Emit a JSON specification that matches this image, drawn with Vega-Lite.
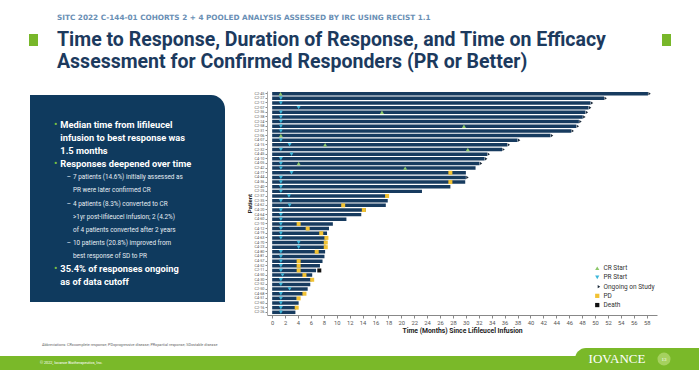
{
"$schema": "https://vega.github.io/schema/vega-lite/v6.json",
"background": "white",
"padding": 0,
"spacing": 0,
"config": {"view": {"stroke": null}, "font": "Roboto", "axis": {"labelOverlap": false}, "axisX": {"labelOverlap": false, "labelSeparation": 0}},
"datasets": {
"header": [
{"line": "sup", "text": "SITC 2022 C-144-01 COHORTS 2 + 4 POOLED ANALYSIS ASSESSED BY IRC USING RECIST 1.1"},
{"line": "t1", "text": "Time to Response, Duration of Response, and Time on Efficacy"},
{"line": "t2", "text": "Assessment for Confirmed Responders (PR or Better)"}
],
"panelLines": [
{"line": 1, "col": "b", "text": "•"},
{"line": 1, "col": "mt", "text": "Median time from lifileucel"},
{"line": 2, "col": "mt", "text": "infusion to best response was"},
{"line": 3, "col": "mt", "text": "1.5 months"},
{"line": 4, "col": "b", "text": "•"},
{"line": 4, "col": "mt", "text": "Responses deepened over time"},
{"line": 5, "col": "d", "text": "–"},
{"line": 5, "col": "st", "text": "7 patients (14.6%) initially assessed as"},
{"line": 6, "col": "st", "text": "PR were later confirmed CR"},
{"line": 7, "col": "d", "text": "–"},
{"line": 7, "col": "st", "text": "4 patients (8.3%) converted to CR"},
{"line": 8, "col": "st", "text": ">1yr post-lifileucel infusion; 2 (4.2%)"},
{"line": 9, "col": "st", "text": "of 4 patients converted after 2 years"},
{"line": 10, "col": "d", "text": "–"},
{"line": 10, "col": "st", "text": "10 patients (20.8%) improved from"},
{"line": 11, "col": "st", "text": "best response of SD to PR"},
{"line": 12, "col": "b", "text": "•"},
{"line": 12, "col": "mt", "text": "35.4% of responses ongoing"},
{"line": 13, "col": "mt", "text": "as of data cutoff"}
],
"patients": [
{"id": "C2-45", "end": 58.2}, {"id": "C2-27", "end": 51.4}, {"id": "C2-12", "end": 49.3}, {"id": "C2-07", "end": 49.0},
{"id": "C2-36", "end": 48.5}, {"id": "C2-38", "end": 48.1}, {"id": "C2-24", "end": 47.5}, {"id": "C2-58", "end": 47.1},
{"id": "C2-31", "end": 46.3}, {"id": "C2-06", "end": 43.1}, {"id": "C4-07", "end": 38.0}, {"id": "C4-15", "end": 36.4},
{"id": "C2-32", "end": 35.6}, {"id": "C4-45", "end": 33.3}, {"id": "C4-10", "end": 32.9}, {"id": "C4-05", "end": 32.1},
{"id": "C2-42", "end": 31.5}, {"id": "C4-77", "end": 30.0}, {"id": "C4-44", "end": 30.0}, {"id": "C4-36", "end": 29.9},
{"id": "C2-40", "end": 27.6}, {"id": "C2-25", "end": 23.2}, {"id": "C2-37", "end": 18.0}, {"id": "C2-35", "end": 17.9},
{"id": "C4-62", "end": 17.6}, {"id": "C4-20", "end": 14.5}, {"id": "C4-64", "end": 13.8}, {"id": "C4-60", "end": 11.5},
{"id": "C2-10", "end": 9.4}, {"id": "C4-12", "end": 8.8}, {"id": "C4-19", "end": 8.5}, {"id": "C4-63", "end": 8.4},
{"id": "C4-70", "end": 8.3}, {"id": "C4-23", "end": 8.3}, {"id": "C4-80", "end": 8.2}, {"id": "C4-81", "end": 8.1},
{"id": "C4-57", "end": 7.8}, {"id": "C4-52", "end": 7.4}, {"id": "C2-11", "end": 6.8}, {"id": "C4-50", "end": 6.2},
{"id": "C4-30", "end": 6.1}, {"id": "C2-52", "end": 5.9}, {"id": "C2-50", "end": 5.5}, {"id": "C4-68", "end": 4.8},
{"id": "C4-51", "end": 3.8}, {"id": "C2-60", "end": 4.1}, {"id": "C2-16", "end": 3.7}, {"id": "C2-26", "end": 3.6}
],
"events": [
{"id": "C2-45", "event": "CR Start", "month": 1.3},
{"id": "C2-36", "event": "CR Start", "month": 17.0},
{"id": "C2-58", "event": "CR Start", "month": 29.7},
{"id": "C2-06", "event": "CR Start", "month": 1.35},
{"id": "C4-15", "event": "CR Start", "month": 8.2},
{"id": "C2-32", "event": "CR Start", "month": 30.3},
{"id": "C4-05", "event": "CR Start", "month": 4.1},
{"id": "C2-42", "event": "CR Start", "month": 20.6},
{"id": "C2-27", "event": "PR Start", "month": 1.35},
{"id": "C2-12", "event": "PR Start", "month": 1.35},
{"id": "C2-07", "event": "PR Start", "month": 4.1},
{"id": "C2-36", "event": "PR Start", "month": 1.35},
{"id": "C2-38", "event": "PR Start", "month": 1.35},
{"id": "C2-24", "event": "PR Start", "month": 1.35},
{"id": "C2-58", "event": "PR Start", "month": 1.35},
{"id": "C2-31", "event": "PR Start", "month": 1.35},
{"id": "C4-07", "event": "PR Start", "month": 1.35},
{"id": "C4-15", "event": "PR Start", "month": 2.7},
{"id": "C2-32", "event": "PR Start", "month": 1.35},
{"id": "C4-45", "event": "PR Start", "month": 3.0},
{"id": "C4-10", "event": "PR Start", "month": 1.35},
{"id": "C4-05", "event": "PR Start", "month": 1.35},
{"id": "C2-42", "event": "PR Start", "month": 1.35},
{"id": "C4-77", "event": "PR Start", "month": 3.0},
{"id": "C4-44", "event": "PR Start", "month": 1.35},
{"id": "C4-36", "event": "PR Start", "month": 1.35},
{"id": "C2-40", "event": "PR Start", "month": 1.35},
{"id": "C2-25", "event": "PR Start", "month": 1.35},
{"id": "C2-37", "event": "PR Start", "month": 2.6},
{"id": "C2-35", "event": "PR Start", "month": 1.35},
{"id": "C4-62", "event": "PR Start", "month": 2.7},
{"id": "C4-20", "event": "PR Start", "month": 1.35},
{"id": "C4-64", "event": "PR Start", "month": 1.35},
{"id": "C4-60", "event": "PR Start", "month": 1.35},
{"id": "C2-10", "event": "PR Start", "month": 1.35},
{"id": "C4-12", "event": "PR Start", "month": 1.35},
{"id": "C4-19", "event": "PR Start", "month": 1.35},
{"id": "C4-63", "event": "PR Start", "month": 1.35},
{"id": "C4-70", "event": "PR Start", "month": 4.1},
{"id": "C4-23", "event": "PR Start", "month": 4.1},
{"id": "C4-80", "event": "PR Start", "month": 1.35},
{"id": "C4-81", "event": "PR Start", "month": 1.35},
{"id": "C4-57", "event": "PR Start", "month": 1.35},
{"id": "C4-52", "event": "PR Start", "month": 1.35},
{"id": "C2-11", "event": "PR Start", "month": 1.35},
{"id": "C4-50", "event": "PR Start", "month": 1.6},
{"id": "C4-30", "event": "PR Start", "month": 1.35},
{"id": "C2-52", "event": "PR Start", "month": 1.35},
{"id": "C2-50", "event": "PR Start", "month": 2.7},
{"id": "C4-68", "event": "PR Start", "month": 1.35},
{"id": "C4-51", "event": "PR Start", "month": 1.35},
{"id": "C2-60", "event": "PR Start", "month": 1.35},
{"id": "C2-16", "event": "PR Start", "month": 1.35},
{"id": "C2-26", "event": "PR Start", "month": 1.35},
{"id": "C2-45", "event": "Ongoing on Study", "month": 58.2},
{"id": "C2-27", "event": "Ongoing on Study", "month": 51.4},
{"id": "C2-12", "event": "Ongoing on Study", "month": 49.3},
{"id": "C2-07", "event": "Ongoing on Study", "month": 49.0},
{"id": "C2-36", "event": "Ongoing on Study", "month": 48.5},
{"id": "C2-38", "event": "Ongoing on Study", "month": 48.1},
{"id": "C2-24", "event": "Ongoing on Study", "month": 47.5},
{"id": "C2-58", "event": "Ongoing on Study", "month": 47.1},
{"id": "C2-31", "event": "Ongoing on Study", "month": 46.3},
{"id": "C2-06", "event": "Ongoing on Study", "month": 43.1},
{"id": "C4-07", "event": "Ongoing on Study", "month": 38.0},
{"id": "C4-15", "event": "Ongoing on Study", "month": 36.4},
{"id": "C2-32", "event": "Ongoing on Study", "month": 35.6},
{"id": "C4-45", "event": "Ongoing on Study", "month": 33.3},
{"id": "C4-10", "event": "Ongoing on Study", "month": 32.9},
{"id": "C4-05", "event": "Ongoing on Study", "month": 32.1},
{"id": "C4-44", "event": "Ongoing on Study", "month": 30.0},
{"id": "C4-77", "event": "PD", "month": 27.6},
{"id": "C4-36", "event": "PD", "month": 27.6},
{"id": "C2-37", "event": "PD", "month": 17.8},
{"id": "C4-62", "event": "PD", "month": 11.0},
{"id": "C4-20", "event": "PD", "month": 14.2},
{"id": "C2-10", "event": "PD", "month": 4.1},
{"id": "C4-12", "event": "PD", "month": 5.5},
{"id": "C4-19", "event": "PD", "month": 7.6},
{"id": "C4-63", "event": "PD", "month": 8.4},
{"id": "C4-70", "event": "PD", "month": 8.3},
{"id": "C4-23", "event": "PD", "month": 8.3},
{"id": "C4-80", "event": "PD", "month": 6.9},
{"id": "C4-57", "event": "PD", "month": 4.1},
{"id": "C4-52", "event": "PD", "month": 4.1},
{"id": "C2-11", "event": "PD", "month": 4.1},
{"id": "C4-50", "event": "PD", "month": 5.0},
{"id": "C4-30", "event": "PD", "month": 6.2},
{"id": "C4-68", "event": "PD", "month": 5.0},
{"id": "C4-51", "event": "PD", "month": 4.1},
{"id": "C2-16", "event": "PD", "month": 3.8},
{"id": "C2-11", "event": "Death", "month": 7.3}
]
},
"vconcat": [
{
"width": 699, "height": 91,
"data": {"name": "header"},
"layer": [
{"transform": [{"filter": "datum.line === 'sup'"}],
"mark": {"type": "text", "align": "left", "baseline": "middle", "font": "DejaVu Sans", "fontWeight": "bold", "fontSize": 7.3, "color": "#6a8fb5"},
"encoding": {
"x": {"field": "line", "type": "nominal", "scale": {"type": "point", "padding": 0, "domain": ["sup", "t1", "t2"], "range": [57, 57]}, "axis": null},
"y": {"field": "line", "type": "nominal", "scale": {"type": "point", "padding": 0, "domain": ["sup", "t1", "t2"], "range": [18, 62]}, "axis": null},
"text": {"field": "text"}}},
{"transform": [{"filter": "datum.line !== 'sup'"}],
"mark": {"type": "text", "align": "left", "baseline": "middle", "font": "Roboto", "fontWeight": "bold", "fontSize": 19.5, "color": "#1c3a5e"},
"encoding": {
"x": {"field": "line", "type": "nominal", "scale": {"type": "point", "padding": 0, "domain": ["sup", "t1", "t2"], "range": [57, 57]}, "axis": null},
"y": {"field": "line", "type": "nominal", "scale": {"type": "point", "padding": 0, "domain": ["sup", "t1", "t2"], "range": [18, 62]}, "axis": null},
"text": {"field": "text"}}},
{"data": {"values": [{"line": "t1", "side": "left"}, {"line": "t1", "side": "right"}]},
"mark": {"type": "point", "shape": "M-0.75,-1H0.75V1H-0.75Z", "size": 144, "filled": true, "color": "#78b72a", "opacity": 1},
"encoding": {
"x": {"field": "side", "type": "nominal", "scale": {"type": "point", "padding": 0, "domain": ["left", "right"], "range": [33.5, 666.5]}, "axis": null},
"y": {"field": "line", "type": "nominal", "scale": {"type": "point", "padding": 0, "domain": ["sup", "t1", "t2"], "range": [18, 62]}, "axis": null}}}
],
"resolve": {"scale": {"x": "independent"}}
},
{
"spacing": 0, "bounds": "flush",
"hconcat": [
{"width": 30, "height": 1, "data": {"values": []}, "mark": "point"},
{"width": 195, "height": 211,
"data": {"name": "panelLines"},
"layer": [
{"data": {"values": [{"part": "box"}]}, "mark": {"type": "rect", "color": "#0f3a5e", "cornerRadiusTopRight": 14},
"encoding": {"y": {"field": "part", "type": "nominal", "scale": {"type": "band", "domain": ["gap", "box"], "range": [-203, 211], "paddingInner": 0, "paddingOuter": 0}, "axis": null}}},
{"transform": [{"filter": "datum.col === 'b'"}],
"mark": {"type": "text", "align": "left", "baseline": "middle", "fontSize": 10, "color": "#7cc242"},
"encoding": {
"x": {"field": "col", "type": "nominal", "scale": {"type": "point", "padding": 0, "domain": ["b", "mt", "d", "st"], "range": [24, 43]}, "axis": null},
"y": {"field": "line", "type": "ordinal", "scale": {"type": "point", "padding": 0, "domain": [1,2,3,4,5,6,7,8,9,10,11,12,13], "range": [34, 191]}, "axis": null},
"text": {"field": "text"}}},
{"transform": [{"filter": "datum.col === 'mt'"}],
"mark": {"type": "text", "align": "left", "baseline": "middle", "fontSize": 9.3, "fontWeight": "bold", "color": "white"},
"encoding": {
"x": {"field": "col", "type": "nominal", "scale": {"type": "point", "padding": 0, "domain": ["b", "mt", "d", "st"], "range": [24, 43]}, "axis": null},
"y": {"field": "line", "type": "ordinal", "scale": {"type": "point", "padding": 0, "domain": [1,2,3,4,5,6,7,8,9,10,11,12,13], "range": [34, 191]}, "axis": null},
"text": {"field": "text"}}},
{"transform": [{"filter": "datum.col === 'd' || datum.col === 'st'"}],
"mark": {"type": "text", "align": "left", "baseline": "middle", "fontSize": 6.4, "color": "#e6edf3"},
"encoding": {
"x": {"field": "col", "type": "nominal", "scale": {"type": "point", "padding": 0, "domain": ["b", "mt", "d", "st"], "range": [24, 43]}, "axis": null},
"y": {"field": "line", "type": "ordinal", "scale": {"type": "point", "padding": 0, "domain": [1,2,3,4,5,6,7,8,9,10,11,12,13], "range": [34, 191]}, "axis": null},
"text": {"field": "text"}}}
],
"resolve": {"scale": {"y": "independent"}}
},
{"width": 42, "height": 1, "data": {"values": []}, "mark": "point"},
{
"width": 390, "height": 224,
"layer": [
{"data": {"name": "patients"},
"mark": {"type": "bar", "color": "#173b5f"},
"encoding": {
"x": {"field": "end", "type": "quantitative", "scale": {"domain": [-0.8, 59.6], "nice": false},
"axis": {"values": [0,2,4,6,8,10,12,14,16,18,20,22,24,26,28,30,32,34,36,38,40,42,44,46,48,50,52,54,56,58], "labelOverlap": false, "title": "Time (Months) Since Lifileucel Infusion", "titleFontSize": 6.8, "titleFontWeight": "bold", "titleColor": "#222", "labelFontSize": 5.8, "labelColor": "#555", "tickSize": 3, "tickColor": "#888", "domainColor": "#888", "grid": false, "labelPadding": 1, "titlePadding": 3}},
"y": {"field": "id", "type": "nominal", "sort": null,
"scale": {"domain": ["C2-45","C2-27","C2-12","C2-07","C2-36","C2-38","C2-24","C2-58","C2-31","C2-06","C4-07","C4-15","C2-32","C4-45","C4-10","C4-05","C2-42","C4-77","C4-44","C4-36","C2-40","C2-25","C2-37","C2-35","C4-62","C4-20","C4-64","C4-60","C2-10","C4-12","C4-19","C4-63","C4-70","C4-23","C4-80","C4-81","C4-57","C4-52","C2-11","C4-50","C4-30","C2-52","C2-50","C4-68","C4-51","C2-60","C2-16","C2-26"], "paddingInner": 0.25, "paddingOuter": 0.2},
"axis": {"title": "Patient", "titleFontSize": 6, "titleFontWeight": "bold", "titleColor": "#222", "labelFontSize": 3.8, "labelColor": "#555", "labelOverlap": false, "tickSize": 2, "tickColor": "#888", "domainColor": "#aaa", "labelPadding": 1, "titlePadding": 2}}}},
{"data": {"name": "events"},
"mark": {"type": "point", "filled": true, "size": 16, "opacity": 1, "strokeWidth": 0},
"encoding": {
"x": {"field": "month", "type": "quantitative",
"axis": {"values": [0,2,4,6,8,10,12,14,16,18,20,22,24,26,28,30,32,34,36,38,40,42,44,46,48,50,52,54,56,58], "labelOverlap": false, "title": "Time (Months) Since Lifileucel Infusion", "titleFontSize": 6.8, "titleFontWeight": "bold", "titleColor": "#222", "labelFontSize": 5.8, "labelColor": "#555", "tickSize": 3, "tickColor": "#888", "domainColor": "#888", "grid": false, "labelPadding": 1, "titlePadding": 3}},
"y": {"field": "id", "type": "nominal"},
"color": {"field": "event", "type": "nominal",
"scale": {"domain": ["CR Start", "PR Start", "Ongoing on Study", "PD", "Death"], "range": ["#8dc86a", "#3bb6d9", "#1b2a3a", "#f2c233", "#111111"]},
"legend": {"title": null, "orient": "none", "legendX": 594, "legendY": 265, "labelFontSize": 6.5, "labelColor": "#333", "symbolSize": 18, "rowPadding": 2.2, "labelOffset": 3, "padding": 0, "symbolStrokeWidth": 0}},
"shape": {"field": "event", "type": "nominal",
"scale": {"domain": ["CR Start", "PR Start", "Ongoing on Study", "PD", "Death"], "range": ["triangle-up", "triangle-down", "M0.2,-0.8L1.4,0L0.2,0.8Z", "square", "square"]},
"legend": {"title": null, "orient": "none", "legendX": 594, "legendY": 265, "labelFontSize": 6.5, "labelColor": "#333", "symbolSize": 18, "rowPadding": 2.2, "labelOffset": 3, "padding": 0, "symbolStrokeWidth": 0}}}}
]
}
]
},
{"width": 699, "height": 13,
"data": {"values": [{"t": "Abbreviations: CR=complete response; PD=progressive disease; PR=partial response; SD=stable disease"}]},
"mark": {"type": "text", "align": "left", "baseline": "middle", "fontSize": 3.8, "color": "#666"},
"encoding": {"text": {"field": "t"},
"x": {"field": "t", "type": "nominal", "scale": {"type": "point", "padding": 0, "range": [42, 42]}, "axis": null},
"y": {"field": "t", "type": "nominal", "scale": {"type": "point", "padding": 0, "range": [10, 10]}, "axis": null}}
},
{"width": 699, "height": 22,
"layer": [
{"data": {"values": [{"part": "band"}]}, "mark": {"type": "rect", "color": "#7ab929"},
"encoding": {"y": {"field": "part", "type": "nominal", "scale": {"type": "band", "domain": ["gap", "band"], "range": [-6, 22], "paddingInner": 0, "paddingOuter": 0}, "axis": null}}},
{"data": {"values": [{"zone": "logo"}]}, "mark": {"type": "rect", "color": "#7ab929", "cornerRadiusTopLeft": 18},
"encoding": {"x": {"field": "zone", "type": "nominal", "scale": {"type": "band", "domain": ["left", "logo"], "range": [451, 699], "paddingInner": 0, "paddingOuter": 0}, "axis": null}}},
{"data": {"values": [{"part": "band", "t": "© 2022, Iovance Biotherapeutics, Inc."}]},
"mark": {"type": "text", "align": "left", "baseline": "middle", "fontSize": 3.8, "color": "white"},
"encoding": {"text": {"field": "t"},
"x": {"field": "t", "type": "nominal", "scale": {"type": "point", "padding": 0, "range": [40, 40]}, "axis": null},
"y": {"field": "part", "type": "nominal", "scale": {"type": "band", "domain": ["gap", "band"], "range": [-6, 22], "paddingInner": 0, "paddingOuter": 0}, "axis": null}}},
{"data": {"values": [{"item": "page"}]},
"mark": {"type": "point", "shape": "circle", "size": 170, "filled": true, "color": "#a5d15f", "opacity": 1},
"encoding": {"x": {"field": "item", "type": "nominal", "scale": {"type": "point", "padding": 0, "domain": ["logo", "page"], "range": [617, 664]}, "axis": null}}},
{"data": {"values": [{"item": "logo", "t": "IOVANCE"}, {"item": "page", "t": "13"}]},
"mark": {"type": "text", "align": "center", "baseline": "middle", "font": "Liberation Serif", "color": "white"},
"encoding": {"text": {"field": "t"}, "size": {"field": "item", "type": "nominal", "scale": {"domain": ["logo", "page"], "range": [13, 5]}, "legend": null},
"x": {"field": "item", "type": "nominal", "scale": {"type": "point", "padding": 0, "domain": ["logo", "page"], "range": [617, 664]}, "axis": null}}}
],
"resolve": {"scale": {"x": "independent", "y": "independent"}}
}
]
}
